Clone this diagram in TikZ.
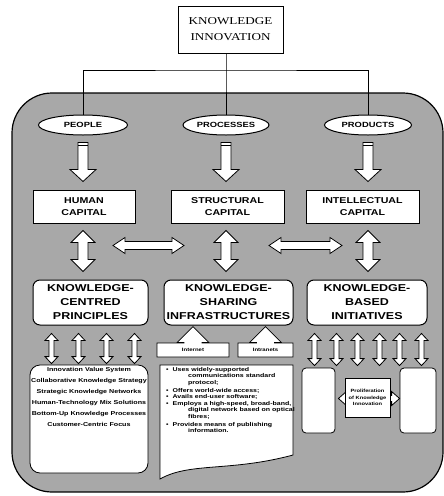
\documentclass[tikz,border=0pt]{standalone}
\usepackage{fontspec}
\setmainfont{Liberation Serif}
\newfontfamily\titlefont{Liberation Serif}[FakeStretch=1.25]
\newfontfamily\boxfont{Liberation Sans}[FakeStretch=1.25]
\usetikzlibrary{positioning, calc, shapes.geometric, shapes.arrows}
\definecolor{kigray}{RGB}{168,168,168}

% hollow block arrows
% vertical double: #1 top tip, #2 bottom tip (y only), #3 shaft half, #4 head half, #5 head length
\newcommand{\vdarrow}[5]{%
  \draw[blockarr] let \p1=(#1), \p2=(#2) in
    (\x1,\y1) -- (\x1+#4,\y1-#5) -- (\x1+#3,\y1-#5) -- (\x1+#3,\y2+#5) -- (\x1+#4,\y2+#5)
    -- (\x1,\y2) -- (\x1-#4,\y2+#5) -- (\x1-#3,\y2+#5) -- (\x1-#3,\y1-#5) -- (\x1-#4,\y1-#5) -- cycle;}
% horizontal double: #1 left tip, #2 right tip (x only)
\newcommand{\hdarrow}[5]{%
  \draw[blockarr] let \p1=(#1), \p2=(#2) in
    (\x1,\y1) -- (\x1+#5,\y1+#4) -- (\x1+#5,\y1+#3) -- (\x2-#5,\y1+#3) -- (\x2-#5,\y1+#4)
    -- (\x2,\y1) -- (\x2-#5,\y1-#4) -- (\x2-#5,\y1-#3) -- (\x1+#5,\y1-#3) -- (\x1+#5,\y1-#4) -- cycle;}
% single down arrow with a stripe: #1 top, #2 tip (y only)
\newcommand{\downarr}[2]{%
  \draw[blockarr] let \p1=(#1), \p2=(#2) in
    (\x1-5pt,\y1) -- (\x1-5pt,\y2+12pt) -- (\x1-13pt,\y2+12pt) -- (\x1,\y2)
    -- (\x1+13pt,\y2+12pt) -- (\x1+5pt,\y2+12pt) -- (\x1+5pt,\y1) -- cycle
    (\x1-5pt,\y1-3pt) -- (\x1+5pt,\y1-3pt);}

\tikzset{
  treeline/.style={draw, line width=0.8pt},
  blockarr/.style={draw, fill=white, line width=0.8pt, line join=miter},
  titlebox/.style={draw, fill=white, line width=0.8pt, minimum width=105, minimum height=47,
    align=center, font={\titlefont\fontsize{10.5}{16}\selectfont}},
  pill/.style={ellipse, draw, fill=white, line width=1pt, inner sep=0pt, minimum height=20,
    font={\boxfont\bfseries\fontsize{7.5}{9}\selectfont}},
  capbox/.style={draw, fill=white, line width=1pt, minimum width=113, minimum height=33,
    inner sep=1pt, align=center, font={\boxfont\bfseries\fontsize{8.5}{12}\selectfont}},
  kbox/.style={draw, fill=white, line width=1pt, rounded corners=7pt, minimum height=45,
    inner sep=1pt, align=center, font={\boxfont\bfseries\fontsize{10}{14}\selectfont}},
  netbox/.style={arrow box, draw, fill=white, line width=0.8pt, minimum height=14, inner sep=1pt,
    arrow box arrows={north:16pt}, arrow box shaft width=18pt, arrow box head extend=7pt,
    font={\boxfont\bfseries\fontsize{4.8}{6}\selectfont}},
  listbox/.style={draw, fill=white, line width=0.8pt, rounded corners=10pt},
  tallbox/.style={draw, fill=white, line width=0.8pt, rounded corners=4pt, minimum height=65},
  smalltext/.style={align=center, inner sep=0pt, font={\boxfont\bfseries\fontsize{5.7}{11}\selectfont}},
  bullettext/.style={align=left, inner sep=0pt, font={\boxfont\bfseries\fontsize{5.6}{6.6}\selectfont}},
  probox/.style={draw, fill=white, line width=0.8pt, minimum width=45, minimum height=39, inner sep=1pt,
    align=center, font={\boxfont\bfseries\fontsize{4.6}{6.8}\selectfont}}
}

\begin{document}
\begin{tikzpicture}[x=1pt, y=-1pt]
  \useasboundingbox (0,0) rectangle (444,496);
  % grey panel, built from plain pieces
  \fill[kigray] (52,93) rectangle (403,492);
  \fill[kigray] (12,133) rectangle (443,452);
  \fill[kigray] (52,133) circle (40);
  \fill[kigray] (403,133) circle (40);
  \fill[kigray] (52,452) circle (40);
  \fill[kigray] (403,452) circle (40);
  \draw[line width=1.2pt, rounded corners=40pt] (12,93) rectangle (443,492);

  % --- Top: title and the three branches ---
  \node[titlebox] (title) at (230.5,29.5) {KNOWLEDGE\\INNOVATION};
  \node[pill, minimum width=89] (people) at (83,125) {PEOPLE};
  \node[pill, minimum width=86] (processes) at (226,125) {PROCESSES};
  \node[pill, minimum width=87] (products) at (368,125) {PRODUCTS};
  \coordinate (hub) at (226,70);
  \draw[treeline] (hub |- title.south) -- (hub) -- (processes.north);
  \draw[treeline] (people.north) |- (hub) -| (products.north);

  % --- Capital boxes ---
  \node[capbox, minimum width=102] (human) at (84,206.5) {HUMAN\\CAPITAL};
  \node[capbox] (structural) at (227.5,206.5) {STRUCTURAL\\CAPITAL};
  \node[capbox] (intellectual) at (362.5,206.5) {INTELLECTUAL\\CAPITAL};
  \downarr{$(people.south)+(0,7)$}{$(human.north)+(0,-8)$}
  \downarr{$(processes.south)+(0,7)$}{$(structural.north)+(0,-8)$}
  \downarr{$(products.south)+(0,7)$}{$(intellectual.north)+(0,-8)$}

  % --- Knowledge boxes ---
  \node[kbox, minimum width=115] (principles) at (90.5,302.5) {KNOWLEDGE-\\CENTRED\\PRINCIPLES};
  \node[kbox, minimum width=129] (sharing) at (228.5,302.5) {KNOWLEDGE-\\SHARING\\INFRASTRUCTURES};
  \node[kbox, minimum width=120] (initiatives) at (367,302.5) {KNOWLEDGE-\\BASED\\INITIATIVES};
  \vdarrow{$(people.south |- human.south)+(0,7)$}{$(principles.north)+(0,-8)$}{5pt}{12pt}{12pt}
  \vdarrow{$(processes.south |- structural.south)+(0,7)$}{$(sharing.north)+(0,-8)$}{5pt}{12pt}{12pt}
  \vdarrow{$(products.south |- intellectual.south)+(0,7)$}{$(initiatives.north)+(0,-8)$}{5pt}{12pt}{12pt}
  \hdarrow{$(people.south |- human.south)+(30,22)$}{$(processes.south)+(-42,0)$}{4pt}{8pt}{12pt}
  \hdarrow{$(processes.south |- human.south)+(43,22)$}{$(products.south)+(-26,0)$}{4pt}{8pt}{12pt}

  % --- Left column: principles ---
  \node[listbox, minimum width=118, minimum height=108] (listbox) at (89,419) {};
  \node[smalltext, below=3pt of listbox.north] (listtext) {Innovation Value System\\
    Collaborative Knowledge Strategy\\Strategic Knowledge Networks\\
    Human-Technology Mix Solutions\\Bottom-Up Knowledge Processes\\Customer-Centric Focus};
  \foreach \dx in {19,46,74,102}
    \vdarrow{$(principles.south west)+(\dx,8)$}{$(listbox.north)+(0,-1)$}{2.5pt}{6.5pt}{7pt};

  % --- Middle column: infrastructures ---
  \node[netbox, minimum width=72] (internet) at (193,350) {Internet};
  \node[netbox, minimum width=55] (intranets) at (265.5,350) {Intranets};
  \draw[line width=0.8pt, fill=white] (160,365) -- (293,365) -- (293,455)
    .. controls (230,472) and (190,462) .. (160,479) -- cycle;
  \node[bullettext, anchor=north west] (bullets) at (166,367) {%
    \textbullet\hspace{4pt}Uses widely-supported\\
    \hspace*{22pt}communications standard\\
    \hspace*{22pt}protocol;\\[1pt]
    \textbullet\hspace{4pt}Offers world-wide access;\\
    \textbullet\hspace{4pt}Avails end-user software;\\
    \textbullet\hspace{4pt}Employs a high-speed, broad-band,\\
    \hspace*{22pt}digital network based on optical\\
    \hspace*{22pt}fibres;\\[1pt]
    \textbullet\hspace{4pt}Provides means of publishing\\
    \hspace*{22pt}information.};

  % --- Right column: initiatives ---
  \node[tallbox, minimum width=33] (lrect) at (318.5,400.5) {};
  \node[tallbox, minimum width=36] (rrect) at (418,400.5) {};
  \foreach \dx in {8,30,51,73,93,115}
    \vdarrow{$(initiatives.south west)+(\dx,8)$}{$(lrect.north)+(0,-2)$}{2.5pt}{6.5pt}{7pt};
  \hdarrow{$(lrect.east)+(3,-2)$}{$(rrect.west)$}{3pt}{7pt}{8pt}
  \node[probox] (prolif) at (367.5,397.5) {Proliferation\\of Knowledge\\Innovation};
\end{tikzpicture}
\end{document}
